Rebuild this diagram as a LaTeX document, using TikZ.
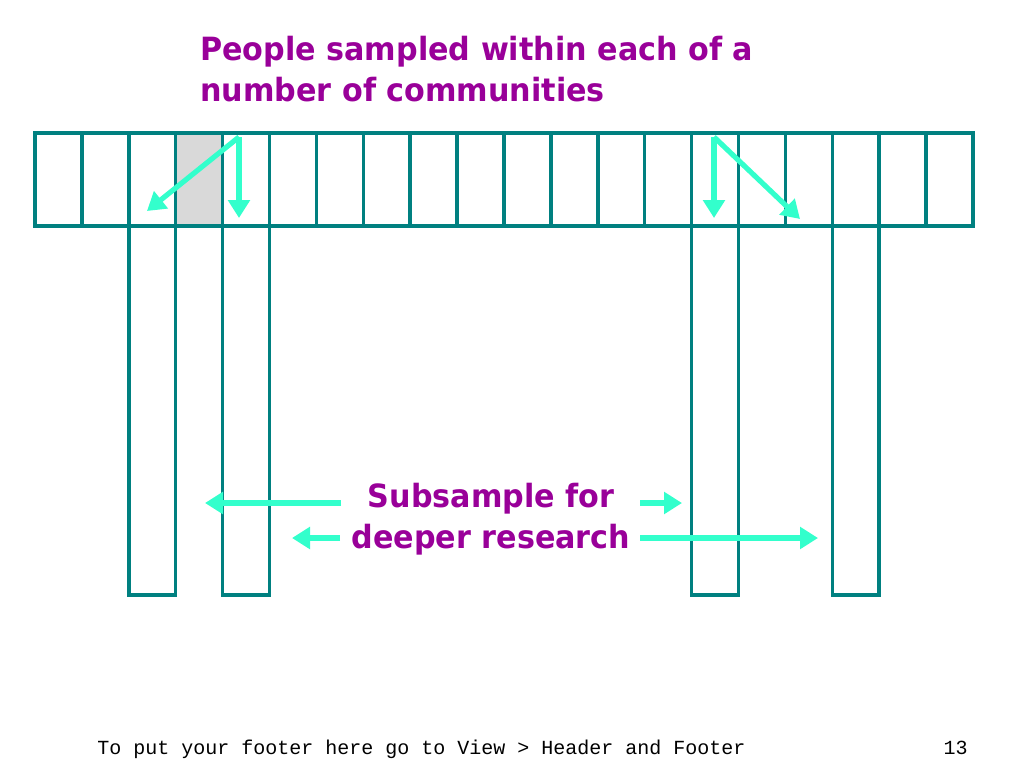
\documentclass[tikz,border=0pt]{standalone}
\usepackage{fontspec}
\setmainfont{DejaVu Sans}
\newfontfamily\headfont[FakeStretch=0.944]{DejaVu Sans}
\newfontfamily\footfont{Liberation Mono}
\usetikzlibrary{arrows.meta}
\definecolor{TitlePurple}{HTML}{990099}
\definecolor{CellTeal}{HTML}{008080}
\definecolor{ArrowAqua}{HTML}{33FFCC}
\definecolor{SoftGray}{HTML}{D9D9D9}

\begin{document}
\begin{tikzpicture}[x=0.75pt, y=-0.75pt,
    cell/.style={draw=CellTeal, line width=2.6pt, minimum width=35.18pt, minimum height=69.75pt, inner sep=0pt, outer sep=0pt},
    column/.style={draw=CellTeal, line width=2.6pt, minimum width=35.18pt, minimum height=276.75pt, inner sep=0pt, outer sep=0pt},
    pick/.style={line width=3.9pt, ArrowAqua, -{Triangle[length=13.5pt, width=16pt]}},
    heading/.style={font=\headfont\bfseries\fontsize{24}{30.75}\selectfont, text=TitlePurple, inner sep=0pt}]
  \useasboundingbox (0,0) rectangle (1024,768);
  % title
  \node[heading, align=left, anchor=north west] (title) at (200,36) {People sampled within each of a\\number of communities};
  % row of communities
  \foreach \i in {0,...,19} {
    \ifnum\i=3 \def\cellfill{SoftGray}\else\def\cellfill{white}\fi
    \node[cell, fill=\cellfill] (c\i) at ({35+46.9*(\i+0.5)},179.5) {};
  }
  % subsampled communities
  \foreach \i in {2,4,14,17}
    \node[column, anchor=north] (s\i) at (c\i.south) {};
  % people sampled
  \coordinate (p4) at (239,137);
  \coordinate (p14) at (714,137);
  \coordinate (q2) at (147,211);
  \coordinate (q4) at (239,218);
  \coordinate (q14) at (714,218);
  \coordinate (q17) at (800,219);
  \draw[pick] (p4) -- (q2);
  \draw[pick] (p4) -- (q4);
  \draw[pick] (p14) -- (q14);
  \draw[pick] (p14) -- (q17);
  % subsample label
  \node[heading, align=center] (sub) at (491,519) {Subsample for\\deeper research};
  \coordinate (a1) at (341,503);
  \coordinate (b1) at (205,503);
  \coordinate (a2) at (340,538);
  \coordinate (b2) at (292,538);
  \coordinate (a3) at (640,503);
  \coordinate (b3) at (682,503);
  \coordinate (a4) at (640,538);
  \coordinate (b4) at (818,538);
  \draw[pick] (a1) -- (b1);
  \draw[pick] (a2) -- (b2);
  \draw[pick] (a3) -- (b3);
  \draw[pick] (a4) -- (b4);
  % footer
  \node[font=\footfont\fontsize{15}{18}\selectfont, anchor=base west, inner sep=0pt] (footer) at (97,754) {To put your footer here go to View > Header and Footer};
  \node[font=\footfont\fontsize{15}{18}\selectfont, anchor=base east, inner sep=0pt] (page) at (968,754) {13};
\end{tikzpicture}
\end{document}
